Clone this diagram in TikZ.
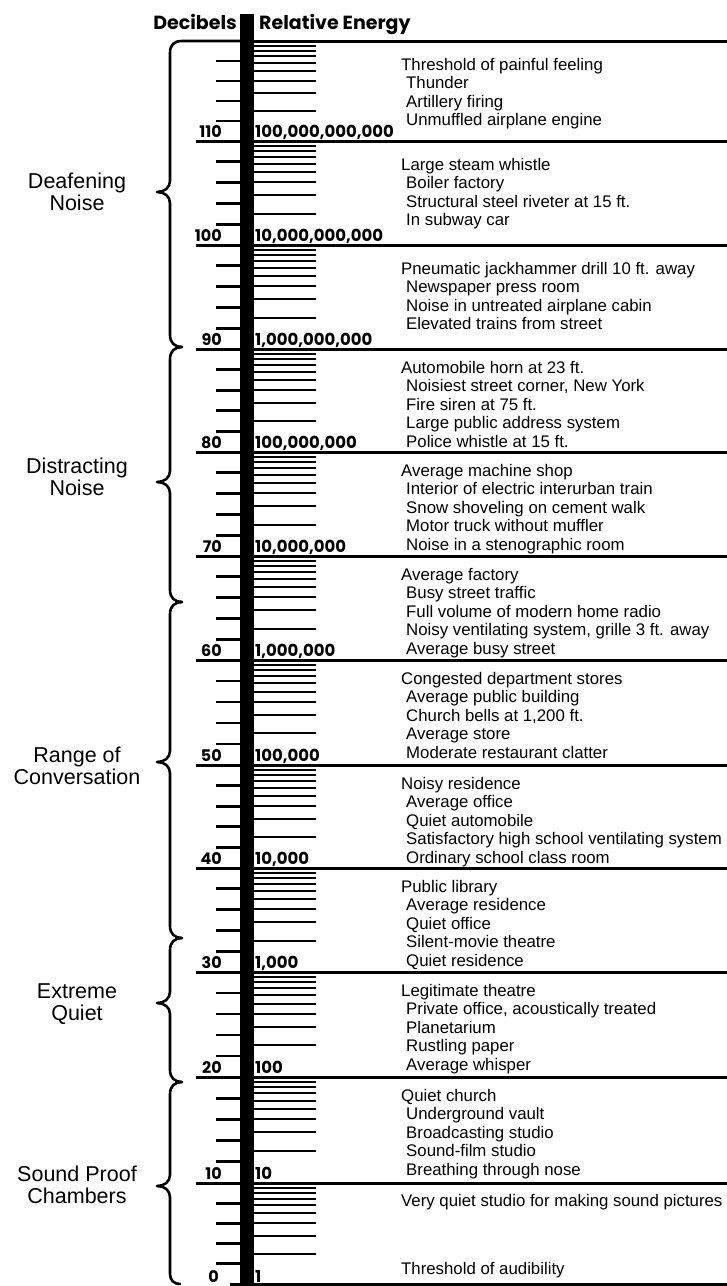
\documentclass[tikz,border=0pt]{standalone}
\usepackage{fontspec}
\setmainfont{Liberation Sans}
\newfontfamily\pop{Poppins}
\begin{document}
\begin{tikzpicture}[x=1pt,y=-1pt,
  desc/.style={font=\fontsize{16.8}{18.5}\selectfont, anchor=base west, inner sep=0pt},
  grp/.style={font=\fontsize{21.5}{22}\selectfont, align=center, inner sep=0pt},
  dbnum/.style={font=\pop\bfseries\fontsize{16}{16}\selectfont, anchor=base east, inner sep=0pt},
  ennum/.style={font=\pop\bfseries\fontsize{16.5}{17}\selectfont, anchor=base west, inner sep=0pt},
  hdr/.style={font=\pop\bfseries\fontsize{19}{19}\selectfont, inner sep=0pt},
  major/.style={line width=3pt},
  minor/.style={line width=2pt},
  tick/.style={line width=2.8pt},
  brace/.style={line width=2.6pt, line cap=round, line join=round}]
\useasboundingbox (0,0) rectangle (727,1286);

% minor lines and ticks per decade
\foreach \d/\yl/\yu in {0/1284/1183, 10/1183/1077, 20/1077/972, 30/972/868, 40/868/765, 50/765/660, 60/660/556, 70/556/452, 80/452/349, 90/349/245, 100/245/141, 110/141/41}{
  \foreach \k in {2,...,9}{
    \draw[minor] (254,{\yl-(\yl-\yu)*log10(\k)}) -- (316,{\yl-(\yl-\yu)*log10(\k)});
  }
  \foreach \j in {1,...,4}{
    \draw[tick] (216,{\yl-(\yl-\yu)*\j/5}) -- (240,{\yl-(\yl-\yu)*\j/5});
  }
}

% major decade lines
\foreach \yy in {141,245,349,452,556,660,765,868,972,1077,1183}{
  \draw[major] (196,\yy) -- (240,\yy);
  \draw[major] (254,\yy) -- (727,\yy);
}
\draw[major] (254,41) -- (727,41);
\draw[major] (230,1284.5) -- (727,1284.5);

% central bar
\fill (240,14) rectangle (254,1286);

% header
\node[hdr, anchor=base east] (hdb) at (237,29) {Decibels};
\node[hdr, anchor=base west] (hre) at (259,29) {Relative Energy};

% decibel numbers
\foreach \n/\yy in {110/141,100/245,90/349,80/452,70/556,60/660,50/765,40/868,30/972,20/1077,10/1183}{
  \node[dbnum] (db\n) at (222,\yy-3.5) {\n};
}
\node[dbnum] (db0) at (219,1282) {0};

% relative energy numbers
\node[ennum] (e11) at (255,137.5) {100,000,000,000};
\node[ennum] (e10) at (255,241.5) {10,000,000,000};
\node[ennum] (e9) at (255,345.5) {1,000,000,000};
\node[ennum] (e8) at (255,448.5) {100,000,000};
\node[ennum] (e7) at (255,552.5) {10,000,000};
\node[ennum] (e6) at (255,656.5) {1,000,000};
\node[ennum] (e5) at (255,761.5) {100,000};
\node[ennum] (e4) at (255,864.5) {10,000};
\node[ennum] (e3) at (255,968.5) {1,000};
\node[ennum] (e2) at (255,1073.5) {100};
\node[ennum] (e1) at (255,1179.5) {10};
\node[ennum] (e0) at (255,1282) {1};

% braces
\draw[brace] (240,41) -- (182,41) .. controls (174,41) and (170,45) .. (170,53)
  -- (170,181) .. controls (170,188) and (164,192) .. (157,192)
  .. controls (164,192) and (170,196) .. (170,203)
  -- (170,335) .. controls (170,343) and (175,347) .. (182,347);
\foreach \ya/\yc/\yb in {347/482/602, 602/762/938, 938/1003/1082}{
  \draw[brace] (182,\ya) .. controls (175,\ya) and (170,\ya+4) .. (170,\ya+12)
    -- (170,\yc-11) .. controls (170,\yc-4) and (164,\yc) .. (157,\yc)
    .. controls (164,\yc) and (170,\yc+4) .. (170,\yc+11)
    -- (170,\yb-12) .. controls (170,\yb-4) and (175,\yb) .. (182,\yb);
}
\draw[brace] (182,1082) .. controls (175,1082) and (170,1086) .. (170,1094)
  -- (170,1175) .. controls (170,1182) and (164,1186) .. (157,1186)
  .. controls (164,1186) and (170,1190) .. (170,1197)
  -- (170,1274) .. controls (170,1280) and (174,1284) .. (180,1284);

% group labels
\node[grp] (gDeaf) at (77,192) {Deafening\\Noise};
\node[grp] (gDist) at (77,477) {Distracting\\Noise};
\node[grp] (gConv) at (77,766) {Range of\\Conversation};
\node[grp] (gQuiet) at (77,1004) {Extreme\\Quiet};
\node[grp] (gSound) at (77,1185) {Sound Proof\\Chambers};

% descriptions
\node[desc] (t1a) at (401,70) {Threshold of painful feeling};
\node[desc] (t1b) at (406,88.5) {Thunder};
\node[desc] (t1c) at (406,107) {Artillery firing};
\node[desc] (t1d) at (406,125.5) {Unmuffled airplane engine};

\node[desc] (t2a) at (401,170) {Large steam whistle};
\node[desc] (t2b) at (406,188.5) {Boiler factory};
\node[desc] (t2c) at (406,207) {Structural steel riveter at 15 ft.};
\node[desc] (t2d) at (406,225.5) {In subway car};

\node[desc] (t3a) at (401,274) {Pneumatic jackhammer drill 10 ft. away};
\node[desc] (t3b) at (406,292.5) {Newspaper press room};
\node[desc] (t3c) at (406,311) {Noise in untreated airplane cabin};
\node[desc] (t3d) at (406,329.5) {Elevated trains from street};

\node[desc] (t4a) at (401,373) {Automobile horn at 23 ft.};
\node[desc] (t4b) at (406,391.5) {Noisiest street corner, New York};
\node[desc] (t4c) at (406,410) {Fire siren at 75 ft.};
\node[desc] (t4d) at (406,428.5) {Large public address system};
\node[desc] (t4e) at (406,447) {Police whistle at 15 ft.};

\node[desc] (t5a) at (401,476) {Average machine shop};
\node[desc] (t5b) at (406,494.5) {Interior of electric interurban train};
\node[desc] (t5c) at (406,513) {Snow shoveling on cement walk};
\node[desc] (t5d) at (406,531.5) {Motor truck without muffler};
\node[desc] (t5e) at (406,550) {Noise in a stenographic room};

\node[desc] (t6a) at (401,580) {Average factory};
\node[desc] (t6b) at (406,598.5) {Busy street traffic};
\node[desc] (t6c) at (406,617) {Full volume of modern home radio};
\node[desc] (t6d) at (406,635.5) {Noisy ventilating system, grille 3 ft. away};
\node[desc] (t6e) at (406,654) {Average busy street};

\node[desc] (t7a) at (401,684) {Congested department stores};
\node[desc] (t7b) at (406,702.5) {Average public building};
\node[desc] (t7c) at (406,721) {Church bells at 1,200 ft.};
\node[desc] (t7d) at (406,739.5) {Average store};
\node[desc] (t7e) at (406,758) {Moderate restaurant clatter};

\node[desc] (t8a) at (401,789) {Noisy residence};
\node[desc] (t8b) at (406,807.5) {Average office};
\node[desc] (t8c) at (406,826) {Quiet automobile};
\node[desc] (t8d) at (406,844.5) {Satisfactory high school ventilating system};
\node[desc] (t8e) at (406,863) {Ordinary school class room};

\node[desc] (t9a) at (401,892) {Public library};
\node[desc] (t9b) at (406,910.5) {Average residence};
\node[desc] (t9c) at (406,929) {Quiet office};
\node[desc] (t9d) at (406,947.5) {Silent-movie theatre};
\node[desc] (t9e) at (406,966) {Quiet residence};

\node[desc] (t10a) at (401,996) {Legitimate theatre};
\node[desc] (t10b) at (406,1014.5) {Private office, acoustically treated};
\node[desc] (t10c) at (406,1033) {Planetarium};
\node[desc] (t10d) at (406,1051.5) {Rustling paper};
\node[desc] (t10e) at (406,1070) {Average whisper};

\node[desc] (t11a) at (401,1101) {Quiet church};
\node[desc] (t11b) at (406,1119.5) {Underground vault};
\node[desc] (t11c) at (406,1138) {Broadcasting studio};
\node[desc] (t11d) at (406,1156.5) {Sound-film studio};
\node[desc] (t11e) at (406,1175) {Breathing through nose};

\node[desc] (t12a) at (401,1206) {Very quiet studio for making sound pictures};
\node[desc] (t12b) at (401,1274) {Threshold of audibility};
\end{tikzpicture}
\end{document}
